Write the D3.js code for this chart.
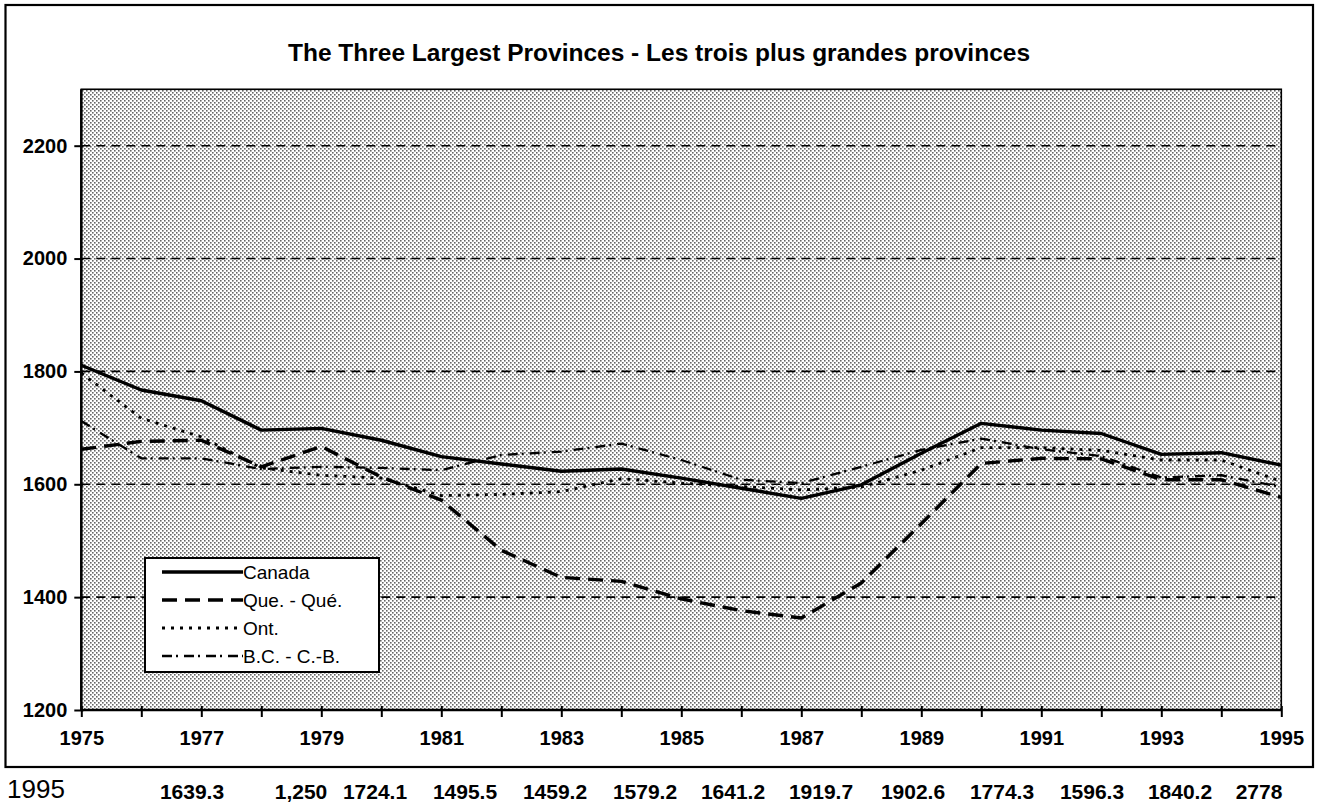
<!DOCTYPE html>
<html>
<head>
<meta charset="utf-8">
<script src="https://cdn.jsdelivr.net/npm/d3@7"></script>
<style>
  html, body { margin: 0; padding: 0; background: #ffffff; }
  svg { display: block; font-family: "Liberation Sans", Arial, Helvetica, sans-serif; }
</style>
</head>
<body>
<svg id="chart" width="1318" height="806"></svg>
<script>
// ---------------- DATA ----------------
const years = [1975,1976,1977,1978,1979,1980,1981,1982,1983,1984,1985,1986,1987,1988,1989,1990,1991,1992,1993,1994,1995];
const canada = [1811,1767,1748,1696,1699,1678,1649,1636,1623,1627,1611,1593,1575,1599,1655,1708,1696,1690,1653,1656,1634];
const quebec = [1662,1676,1678,1631,1667,1613,1572,1483,1435,1428,1397,1376,1363,1425,1530,1637,1646,1645,1608,1608,1577];
const ontario = [1797,1717,1684,1629,1616,1611,1580,1582,1587,1610,1602,1596,1590,1595,1625,1665,1665,1660,1643,1643,1605];
const bc = [1712,1646,1646,1627,1631,1629,1625,1652,1658,1672,1643,1608,1602,1631,1661,1681,1662,1650,1612,1616,1595];
const seriesNames = ["Canada", "Que. - Qué.", "Ont.", "B.C. - C.-B."];
const yTicks = [1200,1400,1600,1800,2000,2200];
const xTickLabels = [1975,1977,1979,1981,1983,1985,1987,1989,1991,1993,1995];
const title = "The Three Largest Provinces - Les trois plus grandes provinces";
const footYear = "1995";
const footValues = ["1639.3","1,250","1724.1","1495.5","1459.2","1579.2","1641.2","1919.7","1902.6","1774.3","1596.3","1840.2","2778"];

// ---------------- LAYOUT ----------------
const svg = d3.select("#chart");
const plot = {left: 81.3, right: 1281.3, top: 88, bottom: 710};
const x = d3.scaleLinear().domain([1975, 1995]).range([plot.left, plot.right]);
const y = d3.scaleLinear().domain([1200, 2300]).range([plot.bottom, plot.bottom - 1100 * 0.5643]);

// stipple pattern
const defs = svg.append("defs");
const pat = defs.append("pattern").attr("id", "stipple").attr("patternUnits", "userSpaceOnUse")
  .attr("width", 4).attr("height", 4);
pat.append("rect").attr("width", 4).attr("height", 4).attr("fill", "#ffffff");
pat.append("rect").attr("x", 0).attr("y", 0).attr("width", 1.6).attr("height", 1.6).attr("fill", "#000");
pat.append("rect").attr("x", 2).attr("y", 2).attr("width", 1.6).attr("height", 1.6).attr("fill", "#000");

// outer frame
svg.append("rect").attr("x", 5.5).attr("y", 5).attr("width", 1307.5).attr("height", 762)
  .attr("fill", "none").attr("stroke", "#000").attr("stroke-width", 2.2);

// title
svg.append("text").attr("x", 659).attr("y", 61).attr("text-anchor", "middle")
  .attr("font-size", 24.5).attr("font-weight", "bold").attr("fill", "#000").text(title);

// plot background
svg.append("rect").attr("x", plot.left).attr("y", y(2300)).attr("width", plot.right - plot.left)
  .attr("height", y(1200) - y(2300)).attr("fill", "url(#stipple)").attr("opacity", 0.6);
svg.append("rect").attr("x", plot.left).attr("y", y(2300)).attr("width", plot.right - plot.left)
  .attr("height", y(1200) - y(2300)).attr("fill", "none").attr("stroke", "#000").attr("stroke-width", 1.6);

// gridlines
svg.append("g").selectAll("line").data(yTicks.filter(d => d > 1200)).join("line")
  .attr("x1", plot.left).attr("x2", plot.right)
  .attr("y1", d => y(d)).attr("y2", d => y(d))
  .attr("stroke", "#000").attr("stroke-width", 1.6).attr("stroke-dasharray", "9,6");

// y axis
const yAxis = d3.axisLeft(y).tickValues(yTicks).tickSize(9).tickSizeOuter(0).tickPadding(5).tickFormat(d3.format("d"));
const gy = svg.append("g").attr("transform", `translate(${plot.left + 2},0)`).call(yAxis);
gy.select(".domain").remove();
gy.selectAll(".tick line").attr("stroke", "#000").attr("stroke-width", 2);
gy.selectAll(".tick text").attr("font-size", 20).attr("font-weight", "bold").attr("fill", "#000")
  .attr("font-family", "'Liberation Sans', Arial, sans-serif").attr("dx", "-2");
svg.append("line").attr("x1", plot.left).attr("x2", plot.left).attr("y1", y(2300)).attr("y2", plot.bottom + 1)
  .attr("stroke", "#000").attr("stroke-width", 2.5);

// x axis
const xAxis = d3.axisBottom(x).tickValues(years).tickSize(8).tickSizeOuter(0).tickPadding(16)
  .tickFormat(d => xTickLabels.includes(d) ? String(d) : "");
const gx = svg.append("g").attr("transform", `translate(0,${plot.bottom - 3})`).call(xAxis);
gx.select(".domain").remove();
gx.selectAll(".tick line").attr("stroke", "#000").attr("stroke-width", 2).attr("y1", -1).attr("y2", 10);
gx.selectAll(".tick text").attr("font-size", 20).attr("font-weight", "bold").attr("fill", "#000")
  .attr("font-family", "'Liberation Sans', Arial, sans-serif");
svg.append("line").attr("x1", plot.left).attr("x2", plot.right).attr("y1", plot.bottom).attr("y2", plot.bottom)
  .attr("stroke", "#000").attr("stroke-width", 2.5);

// series
const styles = [
  {width: 3.4, dash: null},
  {width: 3.4, dash: "15,8"},
  {width: 2.8, dash: "3,6"},
  {width: 2.3, dash: "10,4,2,6"}
];
const allSeries = [canada, quebec, ontario, bc];
const line = d3.line().x((d, i) => x(years[i])).y(d => y(d));
const gl = svg.append("g");
allSeries.forEach((s, k) => {
  gl.append("path").datum(s).attr("d", line).attr("fill", "none").attr("stroke", "#000")
    .attr("stroke-width", styles[k].width).attr("stroke-linejoin", "round")
    .attr("stroke-dasharray", styles[k].dash);
});

// legend
const lg = svg.append("g");
lg.append("rect").attr("x", 145).attr("y", 558).attr("width", 234).attr("height", 114)
  .attr("fill", "#fff").attr("stroke", "#000").attr("stroke-width", 2);
const legY = d3.scalePoint().domain(seriesNames).range([572, 656]);
seriesNames.forEach((n, k) => {
  lg.append("line").attr("x1", 162).attr("x2", 243).attr("y1", legY(n)).attr("y2", legY(n))
    .attr("stroke", "#000").attr("stroke-width", styles[k].width).attr("stroke-dasharray", styles[k].dash);
  lg.append("text").attr("x", 243).attr("y", legY(n) + 6.5).attr("font-size", 19).attr("fill", "#000").text(n);
});

// footer row
svg.append("text").attr("x", 7).attr("y", 798).attr("font-size", 26).attr("fill", "#000").text(footYear);
const footX = [192, 301, 375, 465, 555, 645, 733, 821, 913, 1002, 1092, 1180, 1259];
svg.append("g").selectAll("text").data(footValues).join("text")
  .attr("x", (d, i) => footX[i]).attr("y", 799).attr("text-anchor", "middle")
  .attr("font-size", 21).attr("font-weight", "bold").attr("fill", "#000").text(d => d);
</script>
</body>
</html>
